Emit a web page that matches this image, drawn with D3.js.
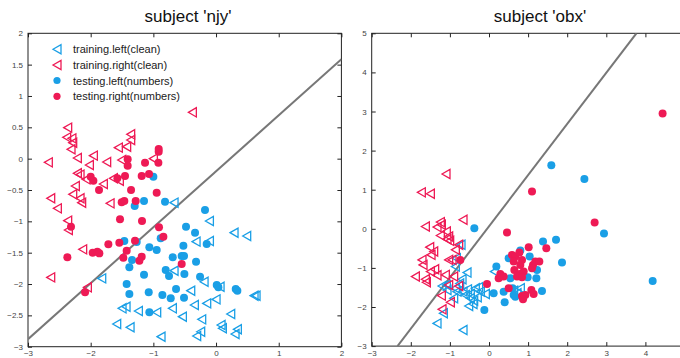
<!DOCTYPE html>
<html>
<head>
<meta charset="utf-8">
<title>subjects njy / obx</title>
<script src="https://cdn.jsdelivr.net/npm/d3@7"></script>
<style>
  body { margin: 0; background: #fff; }
  svg { display: block; font-family: "Liberation Sans", Arial, sans-serif; }
  .tick text { fill: #444; font-size: 8px; }
</style>
</head>
<body>
<svg id="chart" width="680" height="358"></svg>
<script>
// ---- data ----
var blue = "#1a9fe6", red = "#ee1a55";

var legendLabels = ["training.left(clean)", "training.right(clean)", "testing.left(numbers)", "testing.right(numbers)"];

// subject 'njy'
var njyXTicks = [-3, -2, -1, 0, 1, 2];
var njyYTicks = [-3, -2.5, -2, -1.5, -1, -0.5, 0, 0.5, 1, 1.5, 2];
var njyLine = [[-3, -2.88], [2, 1.585]];

var njyTrainLeft = [
  [-0.670,-0.702],[-0.106,-0.995],[0.287,-1.181],[0.489,-1.234],[-0.319,-1.324],[-0.106,-1.314],
  [-0.670,-1.787],[-1.824,-1.910],[-0.191,-1.963],[0.064,-2.043],[-0.404,-2.106],[0.606,-2.186],
  [0.638,-2.186],[0,-2.245],[-0.149,-2.309],[-0.346,-2.335],[-1.436,-2.362],[-1.500,-2.388],
  [-1.239,-2.431],[-0.947,-2.452],[-0.697,-2.388],[-0.537,-2.521],[-0.229,-2.564],[0.234,-2.479],
  [-1.585,-2.638],[-1.372,-2.691],[0.080,-2.654],[0.101,-2.707],[0.340,-2.723],[0.303,-2.798],
  [-0.245,-2.761],[-0.309,-2.830],[-0.878,-2.840]
];
var njyTrainRight = [
  [-0.378,0.739],[-2.367,0.495],[-2.383,0.340],[-2.300,0.324],[-2.287,0.255],[-2.314,0.149],
  [-2.213,0.011],[-2.676,-0.059],[-1.957,0.048],[-2.021,-0.101],[-1.745,-0.053],[-1.559,0.176],
  [-1.426,0.191],[-1.362,0.388],[-1.362,0.298],[-1.505,-0.021],[-1.0,0.0],
  [-2.213,-0.234],[-2.170,-0.255],[-2.074,-0.330],[-2.245,-0.436],[-2.287,-0.569],[-2.170,-0.633],
  [-2.144,-0.702],[-2.638,-0.633],[-2.532,-0.793],[-1.798,-0.404],[-1.691,-0.713],[-1.638,-0.314],
  [-1.543,-0.351],[-2.367,-0.989],[-2.356,-1.138],[-2.128,-1.447],[-2.638,-1.894],[-2.053,-2.053]
];
var njyTestLeft = [
  [-1.0,-0.287],[-1.149,-0.676],[-1.298,-0.755],[-0.814,-0.686],[-0.176,-0.819],[-0.479,-1.085],
  [-0.335,-1.181],[-0.149,-1.362],[-0.883,-1.271],[-1.463,-1.314],[-1.266,-1.330],[-1.064,-1.415],
  [-0.947,-1.457],[-0.521,-1.388],[-0.691,-1.574],[-0.548,-1.553],[-0.511,-1.553],[-0.319,-1.644],
  [-1.340,-1.617],[-1.383,-1.734],[-1.149,-1.851],[-0.803,-1.777],[-0.750,-1.872],[-0.505,-1.840],
  [-0.255,-1.883],[-1.426,-2.0],[0.011,-2.016],[0.037,-2.053],[0.314,-2.080],[0.340,-2.106],
  [-0.638,-2.080],[-1.383,-2.160],[-1.074,-2.133],[-0.856,-2.176],[-0.723,-2.229],[-0.511,-2.218],
  [-1.064,-2.452]
];
var njyTestRight = [
  [-0.915,0.154],[-0.915,0.112],[-1.133,-0.064],[-0.920,-0.064],[-1.410,-0.011],[-1.410,-0.112],
  [-2.0,-0.287],[-1.957,-0.351],[-1.574,-0.314],[-1.452,-0.277],[-1.186,-0.277],[-1.069,-0.245],
  [-1.867,-0.5],[-1.356,-0.5],[-0.947,-0.543],[-1.505,-0.697],[-1.463,-0.676],[-1.282,-0.676],
  [-1.532,-0.968],[-1.181,-0.995],[-2.314,-1.085],[-0.910,-1.096],[-0.840,-1.245],[-1.293,-1.309],
  [-1.543,-1.340],[-1.718,-1.367],[-1.968,-1.500],[-1.894,-1.484],[-1.862,-1.511],[-1.426,-1.468],
  [-1.479,-1.580],[-1.186,-1.564],[-1.223,-1.628],[-2.372,-1.574],[-0.548,-1.681],[-2.090,-2.133]
];

// subject 'obx' (the 5 on the x axis falls off the right edge)
var obxXTicks = [-3, -2, -1, 0, 1, 2, 3, 4];
var obxYTicks = [-3, -2, -1, 0, 1, 2, 3, 4, 5];
var obxLine = [[-2.34, -3], [3.77, 5]];

var obxTrainLeft = [
  [-0.716,-0.410],[-0.835,-0.752],[-0.861,-0.966],[-0.563,-1.120],[-0.690,-1.291],[-1.202,-1.462],
  [-1.091,-1.436],[-1.074,-1.564],[-0.861,-1.521],[-0.818,-1.607],[-0.665,-1.607],[-0.605,-1.692],
  [-0.478,-1.667],[-0.350,-1.521],[-0.264,-1.496],[-0.222,-1.607],[-0.094,-1.667],[-0.478,-1.778],
  [-0.392,-1.838],[-0.520,-1.974],[-0.409,-1.923],[-0.904,-1.778],[-1.168,-2.162],[-1.330,-2.419],
  [-0.665,-2.590],[0.136,-1.094],[0.631,-1.581],[0.801,-1.521],[0.716,-1.650],[-0.75,-1.40],
  [-0.55,-1.55],[-0.30,-1.75]
];
var obxTrainRight = [
  [-1.10,1.40],[-1.731,0.932],[-1.500,0.897],[-1.628,0.060],[-0.665,0.231],[-1.245,0.171],
  [-1.219,0.103],[-1.330,0.043],[-1.091,-0.068],[-1.245,-0.171],[-1.032,-0.197],[-1.074,-0.265],
  [-1.006,-0.308],[-0.776,-0.410],[-0.861,-0.538],[-1.517,-0.470],[-1.415,-0.581],[-1.483,-0.667],
  [-1.714,-0.795],[-1.688,-0.923],[-1.032,-0.795],[-0.946,-0.795],[-1.390,-1.034],[-1.500,-1.094],
  [-1.330,-1.188],[-1.884,-1.222],[-1.628,-1.291],[-1.603,-1.368],[-1.117,-1.179],[-0.904,-1.222],
  [-1.032,-1.436],[-0.776,-1.462],[-1.219,-1.709],[-0.989,-1.880],[-1.202,-2.060]
];
var obxTestLeft = [
  [1.594,1.624],[2.44,1.275],[-0.375,0.017],[1.381,-0.325],[1.714,-0.282],[1.867,-0.863],
  [2.941,-0.120],[4.186,-1.333],[0.801,-0.556],[1.040,-0.709],[0.503,-0.752],[0.188,-0.966],
  [1.228,-1.051],[0.989,-1.239],[1.211,-1.265],[0.546,-1.265],[0.119,-1.650],[0.375,-1.607],
  [0.605,-1.521],[0.631,-1.692],[0.673,-1.735],[1.355,-1.590],[0.401,-1.880],[-0.119,-2.077]
];
var obxTestRight = [
  [4.44,2.95],[1.100,0.957],[2.702,0.162],[0.460,-0.094],[1.015,-0.470],[1.466,-0.496],
  [-0.733,-0.795],[0.588,-0.667],[0.673,-0.709],[0.776,-0.607],[0.844,-0.795],[0.631,-0.838],
  [0.801,-0.923],[1.125,-0.923],[1.185,-0.838],[1.287,-0.838],[1.100,-1.009],[0.648,-1.051],
  [0.887,-1.094],[0.776,-1.154],[0.716,-1.222],[0.844,-1.239],[0.290,-1.154],[0.247,-1.265],
  [0.375,-1.222],[-0.051,-1.410],[0.503,-1.521],[0.844,-1.718],[0.929,-1.692],[0.870,-1.803],
  [1.083,-1.564],[1.142,-1.667]
];

// ---- drawing ----
var svg = d3.select("#chart");
var tri = "M-4,0L4,-4.6L4,4.6Z";

function drawPanel(opt) {
  var x = d3.scaleLinear().domain(opt.xd).range([opt.left, opt.left + opt.size]);
  var y = d3.scaleLinear().domain(opt.yd).range([opt.top + opt.size, opt.top]);
  var g = svg.append("g");

  // axes, ticks inside
  g.append("g").attr("transform", "translate(0," + (opt.top + opt.size) + ")")
    .call(d3.axisBottom(x).tickValues(opt.xt).tickSize(-4).tickPadding(4).tickFormat(d3.format("")));
  g.append("g").attr("transform", "translate(" + opt.left + ",0)")
    .call(d3.axisLeft(y).tickValues(opt.yt).tickSize(-4).tickPadding(5).tickFormat(d3.format("")));
  g.append("g").attr("transform", "translate(0," + opt.top + ")")
    .call(d3.axisTop(x).tickValues(opt.xt).tickSize(-4).tickFormat(""));
  g.append("g").attr("transform", "translate(" + (opt.left + opt.size) + ",0)")
    .call(d3.axisRight(y).tickValues(opt.yt).tickSize(-4).tickFormat(""));
  g.selectAll(".domain").remove();
  g.selectAll(".tick line").attr("stroke", "#222");

  g.append("rect")
    .attr("x", opt.left).attr("y", opt.top)
    .attr("width", opt.size).attr("height", opt.size)
    .attr("fill", "none").attr("stroke", "#222").attr("stroke-width", 1);

  var clipId = "clip" + opt.name;
  svg.append("clipPath").attr("id", clipId).append("rect")
    .attr("x", opt.left).attr("y", opt.top).attr("width", opt.size).attr("height", opt.size);
  var plot = g.append("g").attr("clip-path", "url(#" + clipId + ")");

  // separating line
  plot.append("path")
    .datum(opt.line)
    .attr("fill", "none").attr("stroke", "#777").attr("stroke-width", 2)
    .attr("d", d3.line().x(function(d) { return x(d[0]); }).y(function(d) { return y(d[1]); }));

  function tris(data, col) {
    plot.selectAll(null).data(data).enter().append("path")
      .attr("d", tri)
      .attr("transform", function(d) { return "translate(" + x(d[0]) + "," + y(d[1]) + ")"; })
      .attr("fill", "none").attr("stroke", col).attr("stroke-width", 1.3);
  }
  function dots(data, col) {
    plot.selectAll(null).data(data).enter().append("circle")
      .attr("cx", function(d) { return x(d[0]); })
      .attr("cy", function(d) { return y(d[1]); })
      .attr("r", 4).attr("fill", col);
  }
  tris(opt.trainLeft, blue);
  tris(opt.trainRight, red);
  dots(opt.testLeft, blue);
  dots(opt.testRight, red);

  svg.append("text")
    .attr("x", opt.titleX).attr("y", 22)
    .attr("text-anchor", "middle")
    .style("font-size", "17px").style("fill", "#111")
    .text(opt.title);
}

drawPanel({
  name: "njy", title: "subject 'njy'", titleX: 188,
  left: 28, top: 33.3, size: 313.4,
  xd: [-3, 2], yd: [-3, 2], xt: njyXTicks, yt: njyYTicks, line: njyLine,
  trainLeft: njyTrainLeft, trainRight: njyTrainRight, testLeft: njyTestLeft, testRight: njyTestRight
});
drawPanel({
  name: "obx", title: "subject 'obx'", titleX: 540,
  left: 371.7, top: 33.3, size: 312.8,
  xd: [-3, 5], yd: [-3, 5], xt: obxXTicks, yt: obxYTicks, line: obxLine,
  trainLeft: obxTrainLeft, trainRight: obxTrainRight, testLeft: obxTestLeft, testRight: obxTestRight
});

// legend
var legRows = [49.3, 65, 80.5, 96.3];
var leg = svg.append("g");
legendLabels.forEach(function(lab, i) {
  var col = (i % 2 == 0) ? blue : red;
  if (i < 2) {
    leg.append("path").attr("d", tri)
      .attr("transform", "translate(57," + legRows[i] + ")")
      .attr("fill", "none").attr("stroke", col).attr("stroke-width", 1.3);
  } else {
    leg.append("circle").attr("cx", 57).attr("cy", legRows[i]).attr("r", 3.6).attr("fill", col);
  }
  leg.append("text")
    .attr("x", 73).attr("y", legRows[i] + 4)
    .style("font-size", "11px").style("fill", "#222")
    .text(lab);
});
</script>
</body>
</html>
